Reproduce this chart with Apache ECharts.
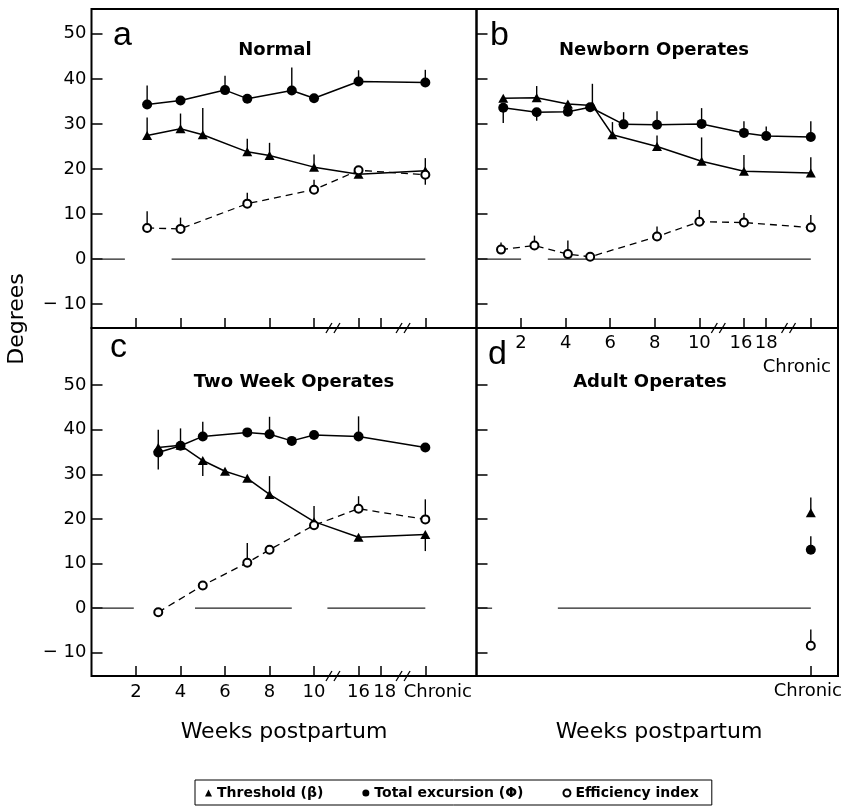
<!DOCTYPE html>
<html><head><meta charset="utf-8">
<script src="https://cdn.jsdelivr.net/npm/echarts@6/dist/echarts.min.js"></script>
<style>html,body{margin:0;padding:0;background:#fff}#c{width:846px;height:807px}</style>
</head><body><div id="c"></div>
<script>
// ---------- axis ticks ----------
const tickWeeks  = [2, 4, 6, 8, 10, 16, 18, 'Chronic'];
const tickLabels = ['2', '4', '6', '8', '10', '16', '18', 'Chronic'];
const yTicks = [-10, 0, 10, 20, 30, 40, 50];
const breakPositions = [10.85, 14.0];   // axis breaks (between 10|16 and 18|Chronic)

// ---------- panel a : Normal ----------
const aTotWeeks = [2.5, 4, 6, 7, 9, 10, 16, 'Chronic'];
const aTot      = [34.3, 35.2, 37.5, 35.6, 37.4, 35.7, 39.4, 39.2];
const aTotErr   = [38.5, null, 40.7, null, 42.5, null, 41.9, 42.0];
const aThrWeeks = [2.5, 4, 5, 7, 8, 10, 16, 'Chronic'];
const aThr      = [27.4, 28.9, 27.6, 23.8, 23.0, 20.4, 18.8, 19.6];
const aThrErr   = [31.4, 32.3, 33.5, 26.7, 25.8, 23.2, null, 22.4];
const aEffWeeks = [2.5, 4, 7, 10, 16, 'Chronic'];
const aEff      = [6.9, 6.7, 12.3, 15.4, 19.7, 18.7];
const aEffErr   = [10.6, 9.2, 14.7, 17.6, null, 16.5];
const aZero     = [[0, 1.5], [3.6, 15]];

// ---------- panel b : Newborn Operates ----------
const bThrWeeks = [1.2, 2.7, 4.1, 5.2, 6.1, 8.1, 10.1, 16, 'Chronic'];
const bThr      = [35.7, 35.8, 34.4, 34.1, 27.6, 25.0, 21.7, 19.5, 19.1];
const bThrErr   = [null, 38.4, null, 38.9, 30.4, 27.4, 27.0, 23.1, 22.6];
const bTotWeeks = [1.2, 2.7, 4.1, 5.1, 6.6, 8.1, 10.1, 16, 18, 'Chronic'];
const bTot      = [33.6, 32.6, 32.7, 33.7, 29.9, 29.8, 30.0, 28.0, 27.3, 27.1];
const bTotErr   = [30.2, 30.7, null, null, 32.6, 32.8, 33.5, 30.6, 29.4, 30.6];
const bEffWeeks = [1.1, 2.6, 4.1, 5.1, 8.1, 10.0, 16, 'Chronic'];
const bEff      = [2.1, 3.0, 1.1, 0.5, 5.0, 8.3, 8.1, 7.0];
const bEffErr   = [3.7, 5.2, 4.1, null, 7.2, 10.9, 10.2, 9.8];
const bZero     = [[0, 2.0], [3.2, 15]];

// ---------- panel c : Two Week Operates ----------
const cTotWeeks = [3, 4, 5, 7, 8, 9, 10, 16, 'Chronic'];
const cTot      = [34.9, 36.4, 38.5, 39.4, 39.0, 37.5, 38.8, 38.5, 36.0];
const cTotErr   = [40.0, 40.3, 41.8, null, 42.9, null, null, 43.0, null];
const cThrWeeks = [3, 4, 5, 6, 7, 8, 10, 16, 'Chronic'];
const cThr      = [36.0, 36.5, 33.1, 30.7, 29.1, 25.5, 19.4, 15.9, 16.5];
const cThrErr   = [31.1, null, 29.6, null, null, 29.6, 22.9, null, 12.8];
const cEffWeeks = [3, 5, 7, 8, 10, 16, 'Chronic'];
const cEff      = [-0.9, 5.1, 10.2, 13.1, 18.6, 22.3, 19.9];
const cEffErr   = [null, null, 14.6, null, null, 25.1, 24.4];
const cZero     = [[0, 1.9], [4.65, 9.0], [10.6, 15]];

// ---------- panel d : Adult Operates ----------
const dWeeks  = ['Chronic'];
const dThr    = [21.4];
const dThrErr = [24.8];
const dTot    = [13.1];
const dTotErr = [16.1];
const dEff    = [-8.4];
const dEffErr = [-4.8];
const dZero   = [[0, 0.7], [3.65, 15]];

// ---------- names ----------
const nameThr = 'Threshold (β)';
const nameTot = 'Total excursion (Φ)';
const nameEff = 'Efficiency index';
const panelLetters = ['a', 'b', 'c', 'd'];
const panelTitles = ['Normal', 'Newborn Operates', 'Two Week Operates', 'Adult Operates'];

// week -> position on the broken axis
const axisPos = w => w === 'Chronic' ? 15 : (w === 16 ? 12 : (w === 18 ? 13 : w));
const tickPos = tickWeeks.map(axisPos);

const FONT = 'DejaVu Sans';

function lineSeries(name, weeks, vals, idx, kind) {
  const s = {
    name, type: 'line', xAxisIndex: idx, yAxisIndex: idx, animation: false, silent: true,
    clip: false, z: 4,
    data: weeks.map((w, i) => [axisPos(w), vals[i]]),
    lineStyle: { color: '#000', width: 1.5 },
    itemStyle: { color: '#000' },
    emphasis: { disabled: true }
  };
  if (kind === 'thr') { s.symbol = 'triangle'; s.symbolSize = [10, 9]; }
  if (kind === 'tot') { s.symbol = 'circle'; s.symbolSize = 10; }
  if (kind === 'eff') {
    s.symbol = 'emptyCircle'; s.symbolSize = 8;
    s.lineStyle = { color: '#000', width: 1.3, type: [7, 5] };
    s.itemStyle = { color: '#000', borderWidth: 1.3 };
    s.z = 5;
  }
  return s;
}

function errSeries(weeks, vals, errs, idx) {
  return {
    type: 'custom', xAxisIndex: idx, yAxisIndex: idx, clip: false, z: 2, silent: true, animation: false,
    data: weeks.map((w, i) => errs[i] == null ? null : [axisPos(w), vals[i], errs[i]]).filter(d => d),
    encode: { x: 0, y: [1, 2] },
    renderItem: (params, api) => {
      const p0 = api.coord([api.value(0), api.value(1)]);
      const p1 = api.coord([api.value(0), api.value(2)]);
      return { type: 'line', shape: { x1: p0[0], y1: p0[1], x2: p1[0], y2: p1[1] },
               style: { stroke: '#000', lineWidth: 1.4 } };
    }
  };
}

function zeroSeries(segs, idx) {
  return {
    type: 'custom', xAxisIndex: idx, yAxisIndex: idx, clip: false, z: 1, silent: true, animation: false,
    data: segs, encode: { x: [0, 1] },
    renderItem: (params, api) => {
      const p0 = api.coord([api.value(0), 0]);
      const p1 = api.coord([api.value(1), 0]);
      return { type: 'line', shape: { x1: p0[0], y1: p0[1], x2: p1[0], y2: p1[1] },
               style: { stroke: '#222', lineWidth: 1.2 } };
    }
  };
}

function breakSeries(idx) {
  return {
    type: 'custom', xAxisIndex: idx, yAxisIndex: idx, clip: false, z: 6, silent: true, animation: false,
    data: breakPositions.map(p => [p]), encode: { x: 0 },
    renderItem: (params, api) => {
      const c = api.coord([api.value(0), 0]);
      const yb = params.coordSys.y + params.coordSys.height;
      const st = { stroke: '#000', lineWidth: 1.3 };
      return { type: 'group', children: [
        { type: 'line', shape: { x1: c[0] - 7, y1: yb + 5, x2: c[0] - 1, y2: yb - 5 }, style: st },
        { type: 'line', shape: { x1: c[0] + 1, y1: yb + 5, x2: c[0] + 7, y2: yb - 5 }, style: st }
      ] };
    }
  };
}

const grids = [
  { left: 91.5, top: 9, width: 385, height: 319 },
  { left: 476.5, top: 9, width: 361.5, height: 319 },
  { left: 91.5, top: 328, width: 385, height: 348 },
  { left: 476.5, top: 328, width: 361.5, height: 348 }
].map(g => Object.assign(g, { show: true, borderColor: '#000', borderWidth: 2, backgroundColor: 'transparent' }));

const labelFont = { fontFamily: FONT, fontSize: 18, color: '#000' };
const tickStyle = { color: '#000', width: 1.5 };

function xAxis(idx, max, opts) {
  return {
    type: 'value', gridIndex: idx, min: 0, max: max, position: 'bottom',
    axisLine: { show: false, onZero: false }, splitLine: { show: false },
    axisTick: { show: true, inside: true, length: 10, customValues: opts.ticks, lineStyle: tickStyle },
    axisLabel: opts.labels ? Object.assign({
      show: true, customValues: opts.ticks, margin: opts.margin,
      formatter: v => {
        const lab = tickLabels[tickPos.indexOf(v)];
        if (opts.rich && opts.rich[lab]) return '{' + opts.rich[lab] + '|' + lab + '}';
        return lab;
      },
      rich: opts.richStyles || {}
    }, labelFont) : { show: false }
  };
}

function yAxis(idx, min, max, showLabels) {
  return {
    type: 'value', gridIndex: idx, min: min, max: max, position: 'left',
    axisLine: { show: false, onZero: false }, splitLine: { show: false },
    axisTick: { show: true, inside: true, length: 11, customValues: yTicks, lineStyle: tickStyle },
    axisLabel: showLabels ? Object.assign({
      show: true, customValues: yTicks, margin: 5,
      formatter: v => v < 0 ? '\u2212 ' + Math.abs(v) : String(v)
    }, labelFont) : { show: false }
  };
}

const richB = { chrB: Object.assign({ padding: [24, 28, 0, 0] }, labelFont),
                n16: Object.assign({ padding: [0, 6, 0, 0] }, labelFont) };
const richC = { chrC: Object.assign({ padding: [0, 0, 0, 25] }, labelFont),
                n18: Object.assign({ padding: [0, 0, 0, 8] }, labelFont) };
const richD = { chrD: Object.assign({ padding: [0, 6, 0, 0] }, labelFont) };

const series = [
  zeroSeries(aZero, 0), zeroSeries(bZero, 1), zeroSeries(cZero, 2), zeroSeries(dZero, 3),
  breakSeries(0), breakSeries(1), breakSeries(2),
  errSeries(aTotWeeks, aTot, aTotErr, 0), errSeries(aThrWeeks, aThr, aThrErr, 0), errSeries(aEffWeeks, aEff, aEffErr, 0),
  errSeries(bTotWeeks, bTot, bTotErr, 1), errSeries(bThrWeeks, bThr, bThrErr, 1), errSeries(bEffWeeks, bEff, bEffErr, 1),
  errSeries(cTotWeeks, cTot, cTotErr, 2), errSeries(cThrWeeks, cThr, cThrErr, 2), errSeries(cEffWeeks, cEff, cEffErr, 2),
  errSeries(dWeeks, dTot, dTotErr, 3), errSeries(dWeeks, dThr, dThrErr, 3), errSeries(dWeeks, dEff, dEffErr, 3),
  lineSeries(nameThr, aThrWeeks, aThr, 0, 'thr'), lineSeries(nameTot, aTotWeeks, aTot, 0, 'tot'), lineSeries(nameEff, aEffWeeks, aEff, 0, 'eff'),
  lineSeries(nameThr, bThrWeeks, bThr, 1, 'thr'), lineSeries(nameTot, bTotWeeks, bTot, 1, 'tot'), lineSeries(nameEff, bEffWeeks, bEff, 1, 'eff'),
  lineSeries(nameThr, cThrWeeks, cThr, 2, 'thr'), lineSeries(nameTot, cTotWeeks, cTot, 2, 'tot'), lineSeries(nameEff, cEffWeeks, cEff, 2, 'eff'),
  lineSeries(nameThr, dWeeks, dThr, 3, 'thr'), lineSeries(nameTot, dWeeks, dTot, 3, 'tot'), lineSeries(nameEff, dWeeks, dEff, 3, 'eff')
];

const letterPos = [[113, 36], [490, 36], [110, 348], [488, 355]];
const titlePos = [[275, 50], [654, 50], [294, 382], [650, 382]];
const graphic = [];
panelLetters.forEach((t, i) => graphic.push({ type: 'text', x: letterPos[i][0], y: letterPos[i][1], silent: true,
  style: { text: t, font: '34px "Liberation Sans"', fill: '#000', align: 'left', verticalAlign: 'middle' } }));
panelTitles.forEach((t, i) => graphic.push({ type: 'text', x: titlePos[i][0], y: titlePos[i][1], silent: true,
  style: { text: t, font: 'bold 18px "DejaVu Sans"', fill: '#000', align: 'center', verticalAlign: 'middle' } }));
graphic.push({ type: 'text', x: 284, y: 732, silent: true,
  style: { text: 'Weeks postpartum', font: '22px "DejaVu Sans"', fill: '#000', align: 'center', verticalAlign: 'middle' } });
graphic.push({ type: 'text', x: 659, y: 732, silent: true,
  style: { text: 'Weeks postpartum', font: '22px "DejaVu Sans"', fill: '#000', align: 'center', verticalAlign: 'middle' } });
graphic.push({ type: 'text', x: 17, y: 319, rotation: Math.PI / 2, silent: true,
  style: { text: 'Degrees', font: '22px "DejaVu Sans"', fill: '#000', align: 'center', verticalAlign: 'middle' } });

const option = {
  backgroundColor: '#fff',
  animation: false,
  grid: grids,
  xAxis: [
    xAxis(0, 17.3, { ticks: tickPos, labels: false }),
    xAxis(1, 16.22, { ticks: tickPos, labels: true, margin: 6, rich: { 'Chronic': 'chrB', '16': 'n16' }, richStyles: richB }),
    xAxis(2, 17.3, { ticks: tickPos, labels: true, margin: 7, rich: { 'Chronic': 'chrC', '18': 'n18' }, richStyles: richC }),
    xAxis(3, 16.22, { ticks: [axisPos('Chronic')], labels: true, margin: 6, rich: { 'Chronic': 'chrD' }, richStyles: richD })
  ],
  yAxis: [
    yAxis(0, -15.3, 55.5, true),
    yAxis(1, -15.3, 55.5, false),
    yAxis(2, -15.2, 62.8, true),
    yAxis(3, -15.2, 62.8, false)
  ],
  legend: {
    left: 195, top: 780, orient: 'horizontal',
    padding: [6, 13, 5, 10], itemGap: 39, itemWidth: 7, itemHeight: 7,
    borderColor: '#000', borderWidth: 1, selectedMode: false,
    textStyle: { fontFamily: FONT, fontWeight: 'bold', fontSize: 14, color: '#000' },
    data: [ { name: nameThr, icon: 'triangle' }, { name: nameTot, icon: 'circle' }, { name: nameEff, icon: 'emptyCircle' } ]
  },
  graphic: graphic,
  series: series
};

const chart = echarts.init(document.getElementById('c'), null, { renderer: 'canvas' });
chart.setOption(option);
</script></body></html>
